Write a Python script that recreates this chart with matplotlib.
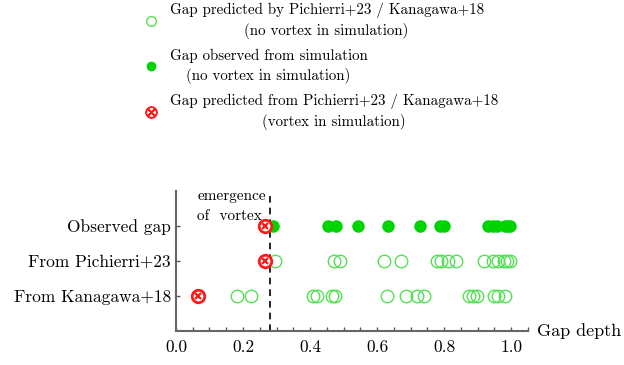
import numpy as np
import matplotlib.pyplot as plt
from matplotlib.lines import Line2D

plt.rcParams['font.family'] = 'cmr10'
plt.rcParams['mathtext.fontset'] = 'cm'
plt.rcParams['axes.formatter.use_mathtext'] = True

# gap depths per row (0 = no gap, 1 = fully depleted)
observed = [0.29, 0.453, 0.477, 0.544, 0.632, 0.728, 0.788, 0.80,
            0.932, 0.945, 0.957, 0.982, 0.992, 0.997]
observed_vortex = [0.266]
pichierri = [0.296, 0.47, 0.49, 0.622, 0.672, 0.778, 0.791, 0.813, 0.835,
             0.920, 0.945, 0.960, 0.978, 0.987, 0.997]
pichierri_vortex = [0.266]
kanagawa = [0.183, 0.223, 0.41, 0.42, 0.465, 0.475, 0.63, 0.686, 0.72,
            0.74, 0.873, 0.886, 0.898, 0.950, 0.960, 0.983]
kanagawa_vortex = [0.067]

row_labels = ['From Kanagawa+18', 'From Pichierri+23', 'Observed gap']
vortex_depth = 0.28

green = '#00d400'
light_green = '#55e055'
red = '#ff1a1a'

fig = plt.figure(figsize=(6.24, 3.65), dpi=100)
ax = fig.add_axes([0.282, 0.093, 0.564, 0.384])


def vortex_marker(xs, y, size=9):
    ax.plot(xs, [y] * len(xs), 'o', ms=size, mfc='white', mec=red, mew=2.0,
            zorder=4)
    ax.plot(xs, [y] * len(xs), 'x', ms=size * 0.45, mec=red, mew=1.6,
            zorder=5)


ax.plot(kanagawa, [0] * len(kanagawa), 'o', ms=9, mfc='none',
        mec=light_green, mew=1.0)
ax.plot(pichierri, [1] * len(pichierri), 'o', ms=9, mfc='none',
        mec=light_green, mew=1.0)
ax.plot(observed, [2] * len(observed), 'o', ms=9, color=green, mew=0)
vortex_marker(kanagawa_vortex, 0)
vortex_marker(pichierri_vortex, 1)
vortex_marker(observed_vortex, 2)

ax.axvline(vortex_depth, color='black', ls=(0, (4, 3)), lw=1.2, zorder=1)
ax.text(0.168, 2.85, 'emergence', ha='center', va='center', fontsize=11)
ax.text(0.16, 2.27, 'of  vortex', ha='center', va='center', fontsize=11)

ax.set_xlim(0, 1.05)
ax.set_ylim(-1, 3)
ax.set_xticks(np.arange(0, 1.01, 0.2))
ax.set_xticks(np.arange(0, 1.051, 0.05), minor=True)
ax.set_xticklabels(['%.1f' % v for v in np.arange(0, 1.01, 0.2)])
ax.set_yticks([0, 1, 2])
ax.set_yticklabels(row_labels)
ax.tick_params(axis='both', which='both', direction='in', length=3,
               width=1, color='#555555', labelsize=12.5)
ax.tick_params(axis='x', pad=6)
for side in ['top', 'right']:
    ax.spines[side].set_visible(False)
for side in ['left', 'bottom']:
    ax.spines[side].set_color('#666666')
    ax.spines[side].set_linewidth(1.5)

ax.text(1.078, -1, 'Gap depth', ha='left', va='center', fontsize=13,
        transform=ax.transData, clip_on=False)

handles = [
    Line2D([], [], ls='none', marker='o', ms=7, mfc='none',
           mec=light_green, mew=1.0),
    Line2D([], [], ls='none', marker='o', ms=7, color=green, mew=0),
    Line2D([], [], ls='none', marker='$\\otimes$', ms=8, color=red),
]
labels = [
    'Gap predicted by Pichierri+23 / Kanagawa+18\n(no vortex in simulation)',
    'Gap observed from simulation\n(no vortex in simulation)',
    'Gap predicted from Pichierri+23 / Kanagawa+18\n(vortex in simulation)',
]
leg = fig.legend(handles, labels, loc='upper left',
                 bbox_to_anchor=(0.208, 1.03), frameon=False, fontsize=10.8,
                 handlelength=1.0, handletextpad=0.75, labelspacing=0.6)
for t in leg.get_texts():
    t.set_multialignment('center')
    t.set_linespacing(1.45)

fig.savefig('out.png', dpi=100)
